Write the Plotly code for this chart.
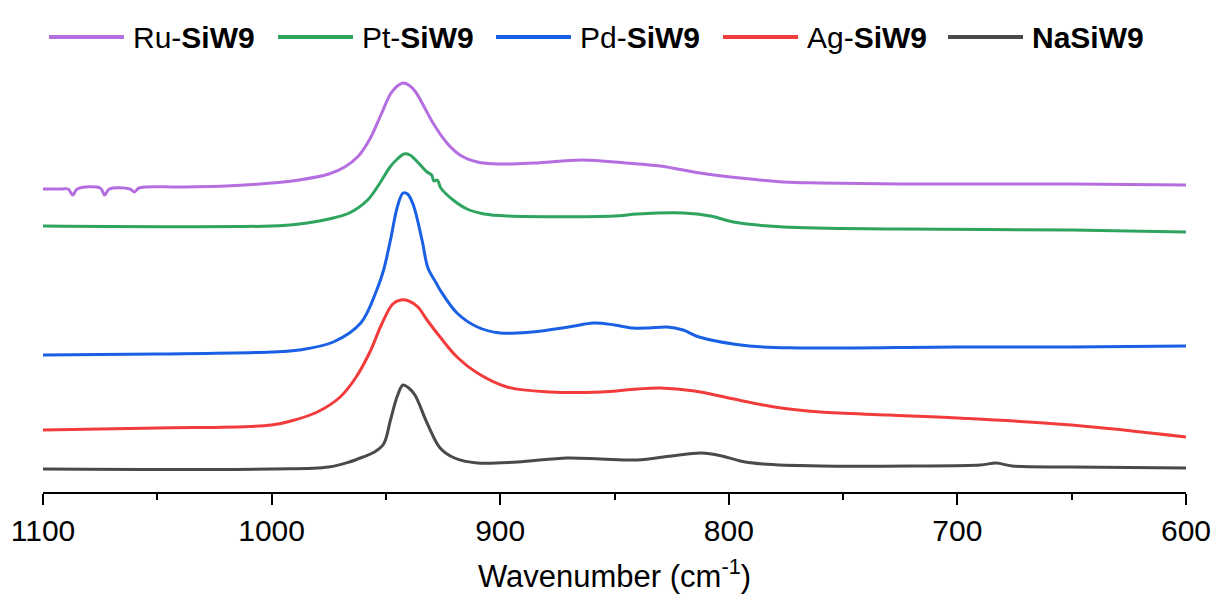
import plotly.graph_objects as go

# Raman spectra, stacked with offsets (a.u.) vs wavenumber (cm-1)
ru_wn = [1100, 1092, 1089, 1087, 1085, 1075, 1073, 1071, 1062, 1060, 1058, 1040, 1020, 1000, 988, 975, 968,
         962, 957, 952, 948, 945, 942.5, 940, 937, 933, 929.4, 923.3, 917.6, 910, 900, 885, 864, 845,
         830, 812.6, 795, 776, 760, 725, 650, 600]
ru_int = [303, 303, 303, 297, 303, 304, 297, 303, 303, 300, 304, 305, 306, 309, 312, 318, 325,
          336, 353, 378, 398, 406, 409, 407, 400, 384, 369, 349, 337, 330, 328, 329, 332, 329,
          326, 319, 314, 310, 309, 308, 308, 307]

pt_wn = [1100, 1000, 988, 975, 966, 958, 952.6, 948.2, 945, 942, 939.5, 937, 932, 930, 929, 927.5, 926,
         920.6, 914.5, 907, 897, 850, 840, 820, 808, 798, 776, 725, 650, 600]
pt_int = [266, 266, 268, 273, 279, 292, 309, 325, 333, 338, 337, 332, 320, 317, 311, 312, 304,
          292, 283, 278, 276, 276, 278, 279, 276, 270, 265, 263, 262, 260]

pd_wn = [1100, 1050, 1000, 988, 973, 961, 954, 951, 948, 945, 942.5, 940.5, 938, 934.2, 931.6, 928, 926.3,
         918.9, 910, 900, 886, 870, 859, 850, 842, 835, 827, 820, 813, 791, 769, 700, 650, 600]
pd_int = [137, 138, 140, 142, 150, 169, 202, 222, 252, 285, 299, 298, 287, 252, 224, 209, 202,
          179, 165, 159, 160, 165, 169, 167, 164, 164, 165, 162, 155, 146, 144, 145, 145, 146]

ag_wn = [1100, 1050, 1000, 990, 980, 970, 963, 957, 952, 947, 943.5, 940, 936, 932, 926.3, 918.9, 910,
         897, 878, 856, 840, 830, 815, 800, 780, 760, 730, 700, 650, 600]
ag_int = [62, 64, 67, 72, 80, 95, 115, 140, 167, 188, 192, 191, 185, 172, 155, 135, 119,
          105, 100, 100, 103, 104, 101, 94, 85, 80, 77, 74, 67, 55]

na_wn = [1100, 1000, 975, 966, 960, 955, 951, 948, 945, 942.5, 940, 937.3, 932, 926.3, 920, 910,
         892.6, 870.8, 856, 840, 825, 812, 803, 795, 785, 760, 720, 690, 683, 676, 650, 600]
na_int = [23, 23, 25, 30, 35, 40, 48, 72, 96, 107, 104, 97, 69, 44, 34, 29,
          30, 34, 33, 32, 36, 39, 36, 31, 28, 26, 26, 27, 29, 26, 25, 24]

series_names = ["Ru-<b>SiW9</b>", "Pt-<b>SiW9</b>", "Pd-<b>SiW9</b>", "Ag-<b>SiW9</b>", "<b>NaSiW9</b>"]
series_colors = ["#B56EE0", "#2EA45E", "#1A60E4", "#F23C3C", "#4A4A4A"]
series_x = [ru_wn, pt_wn, pd_wn, ag_wn, na_wn]
series_y = [ru_int, pt_int, pd_int, ag_int, na_int]

FONT = "Liberation Sans, Arial, sans-serif"
W, H = 1216, 597
M_L, M_R, M_T, M_B = 43, 30, 60, 105
plot_w = W - M_L - M_R
plot_h = H - M_T - M_B

fig = go.Figure()
for x, y, name, color in zip(series_x, series_y, series_names, series_colors):
    fig.add_trace(go.Scatter(x=x, y=y, mode="lines", name=name, showlegend=False,
                             line=dict(color=color, width=3, shape="spline", smoothing=1.0)))

# Legend row above the plot area: line sample followed by its label
legend_line_x = [49, 278, 496, 723, 948]
legend_len = 75
legend_y_px = 37
shapes, annotations = [], []
for lx, name, color in zip(legend_line_x, series_names, series_colors):
    x0 = (lx - M_L) / plot_w
    x1 = (lx + legend_len - M_L) / plot_w
    yy = (H - M_B - legend_y_px) / plot_h
    shapes.append(dict(type="line", xref="paper", yref="paper", x0=x0, x1=x1, y0=yy, y1=yy,
                       line=dict(color=color, width=4)))
    annotations.append(dict(xref="paper", yref="paper", x=(lx + legend_len + 7 - M_L) / plot_w, y=yy,
                            xanchor="left", yanchor="middle", text=name, showarrow=False,
                            font=dict(family=FONT, size=30, color="#000000")))

fig.update_layout(
    width=W, height=H,
    margin=dict(l=M_L, r=M_R, t=M_T, b=M_B, pad=0),
    paper_bgcolor="white", plot_bgcolor="white",
    shapes=shapes, annotations=annotations,
    font=dict(family=FONT, color="#000000"),
    xaxis=dict(
        range=[1100, 600], autorange=False, automargin=False,
        tickmode="linear", tick0=600, dtick=100,
        ticks="outside", ticklen=11, tickwidth=2, tickcolor="#000000",
        minor=dict(ticks="outside", ticklen=6, tickwidth=2, dtick=50, tickcolor="#000000"),
        showline=True, linecolor="#000000", linewidth=2,
        showgrid=False, zeroline=False,
        tickfont=dict(family=FONT, size=30, color="#000000"),
        title=dict(text="Wavenumber (cm<sup>-1</sup>)", font=dict(family=FONT, size=31, color="#000000"),
                   standoff=19),
    ),
    yaxis=dict(range=[0, 432], autorange=False, visible=False, showgrid=False, zeroline=False),
)

fig.write_html("out.html")
